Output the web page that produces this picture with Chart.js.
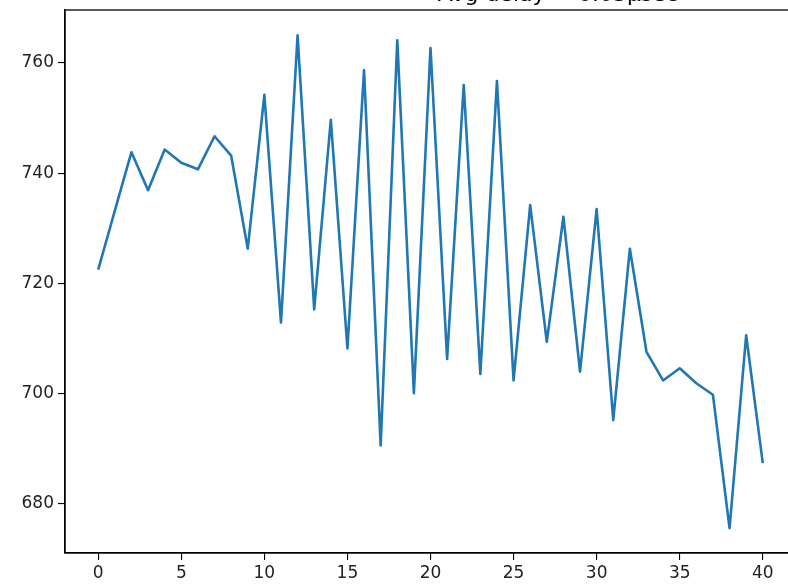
<!DOCTYPE html>
<html>
<head>
<meta charset="utf-8">
<script src="https://cdn.jsdelivr.net/npm/chart.js@4/dist/chart.umd.min.js"></script>
<style>
  html, body { margin: 0; padding: 0; background: #fff; overflow: hidden; }
  #wrap { position: absolute; left: 0; top: 0; width: 800px; height: 587px; }
</style>
</head>
<body>
<div id="wrap"><canvas id="c" width="800" height="587"></canvas></div>
<script>
// Sample index along the x axis
const steps = [0, 1, 2, 3, 4, 5, 6, 7, 8, 9, 10, 11, 12, 13, 14, 15, 16, 17, 18, 19, 20,
               21, 22, 23, 24, 25, 26, 27, 28, 29, 30, 31, 32, 33, 34, 35, 36, 37, 38, 39, 40];
// Measured value at each step
const values = [722.5, 733.2, 743.8, 736.9, 744.3, 741.9, 740.7, 746.7, 743.2, 726.3,
                754.2, 712.9, 765.0, 715.3, 749.7, 708.2, 758.7, 690.6, 764.1, 700.1,
                762.7, 706.3, 756.0, 703.6, 756.7, 702.4, 734.2, 709.4, 732.1, 704.0,
                733.5, 695.2, 726.3, 707.6, 702.4, 704.6, 701.9, 699.8, 675.6, 710.6, 687.4];
const xTicks = [0, 5, 10, 15, 20, 25, 30, 35, 40];
const yTicks = [680, 700, 720, 740, 760];
const titleText = 'Avg delay = 0.03μsec';

const FONT = "'DejaVu Sans', sans-serif";

// Full box around the plotting area, plus the title sitting above it
const framePlugin = {
  id: 'frame',
  afterDraw(chart) {
    const { ctx, chartArea: a } = chart;
    ctx.save();
    ctx.strokeStyle = '#000';
    ctx.lineWidth = 1.3;
    ctx.strokeRect(a.left, a.top, a.right - a.left, a.bottom - a.top);
    ctx.fillStyle = '#000';
    ctx.font = "22px " + FONT;
    ctx.textAlign = 'right';
    ctx.textBaseline = 'alphabetic';
    ctx.fillText(titleText, 678, 1);
    ctx.restore();
  }
};

new Chart(document.getElementById('c'), {
  type: 'line',
  data: {
    datasets: [{
      data: steps.map((s, i) => ({ x: s, y: values[i] })),
      borderColor: '#1f77b4',
      borderWidth: 2.6,
      borderJoinStyle: 'round',
      pointRadius: 0,
      tension: 0,
      fill: false
    }]
  },
  options: {
    responsive: false,
    animation: false,
    layout: { padding: { left: 0, top: 10, right: 4, bottom: 0 } },
    plugins: { legend: { display: false }, tooltip: { enabled: false } },
    scales: {
      x: {
        type: 'linear',
        min: -2,
        max: 42,
        afterBuildTicks: s => { s.ticks = xTicks.map(v => ({ value: v })); },
        afterFit: s => { s.height = 34; s.paddingLeft = 0; s.paddingRight = 0; },
        grid: { drawOnChartArea: false, drawTicks: true, tickLength: 7, color: '#000', lineWidth: 1.1 },
        border: { display: true, color: '#000', width: 1.3 },
        ticks: { color: '#222', font: { family: FONT, size: 17 }, padding: 3, maxRotation: 0 }
      },
      y: {
        type: 'linear',
        min: 671.1,
        max: 769.6,
        afterBuildTicks: s => { s.ticks = yTicks.map(v => ({ value: v })); },
        afterFit: s => { s.width = 65; s.paddingTop = 0; s.paddingBottom = 0; },
        grid: { drawOnChartArea: false, drawTicks: true, tickLength: 7, color: '#000', lineWidth: 1.1 },
        border: { display: true, color: '#000', width: 1.3 },
        ticks: { color: '#222', font: { family: FONT, size: 17 }, padding: 4 }
      }
    }
  },
  plugins: [framePlugin]
});
</script>
</body>
</html>
